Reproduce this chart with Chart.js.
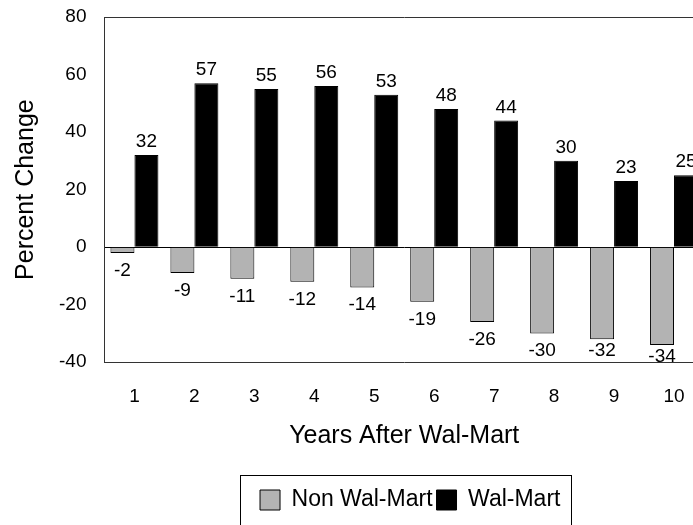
<!DOCTYPE html>
<html>
<head>
<meta charset="utf-8">
<script src="https://cdn.jsdelivr.net/npm/chart.js@4.4.1/dist/chart.umd.min.js"></script>
<style>
  html, body { margin: 0; padding: 0; background: #fff; overflow: hidden; }
  #wrap { position: relative; width: 720px; height: 525px; }
</style>
</head>
<body>
<div id="wrap"><canvas id="walmartChart" width="720" height="525"></canvas></div>
<script>
// data
const years = ['1', '2', '3', '4', '5', '6', '7', '8', '9', '10'];
const nonWalMart = [-2, -9, -11, -12, -14, -19, -26, -30, -32, -34];
const walMart = [32, 57, 55, 56, 53, 48, 44, 30, 23, 25];
const yMin = -40;
const yMax = 80;
const yStep = 20;

const FONT = "'Liberation Sans', Arial, sans-serif";

// put the legend under the plot area instead of the whole canvas
const legendSpan = {
    id: 'legendSpan',
    afterLayout(chart) {
        chart.legend.left = chart.chartArea.left + 12;
        chart.legend.right = chart.chartArea.right;
    }
};

// frame round the legend, like the Excel one
const legendFrame = {
    id: 'legendFrame',
    afterDraw(chart) {
        const hb = chart.legend.legendHitBoxes;
        if (!hb || !hb.length) return;
        const first = hb[0], last = hb[hb.length - 1];
        const x0 = Math.round(first.left - 20) + 0.5;
        const x1 = Math.round(last.left + last.width + 11) + 0.5;
        const y0 = Math.round(first.top - 14) + 0.5;
        const ctx = chart.ctx;
        ctx.save();
        ctx.strokeStyle = '#000';
        ctx.lineWidth = 1;
        ctx.strokeRect(x0, y0, x1 - x0, 200);
        ctx.restore();
    }
};

// value labels at the end of each bar
const barValues = {
    id: 'barValues',
    afterDatasetsDraw(chart) {
        const ctx = chart.ctx;
        const area = chart.chartArea;
        ctx.save();
        ctx.font = '19px ' + FONT;
        ctx.fillStyle = '#000';
        ctx.textAlign = 'center';
        ctx.textBaseline = 'alphabetic';
        chart.data.datasets.forEach((ds, i) => {
            chart.getDatasetMeta(i).data.forEach((bar, j) => {
                const v = ds.data[j];
                let y;
                if (v >= 0) {
                    y = bar.y - 8;
                } else {
                    let top = Math.min(bar.y + 9, area.bottom - 20);
                    top = Math.max(top, bar.y + 3);
                    y = top + 14;
                }
                ctx.fillText(String(v), bar.x, y);
            });
        });
        ctx.restore();
    }
};

const ctx = document.getElementById('walmartChart').getContext('2d');
new Chart(ctx, {
    type: 'bar',
    data: {
        labels: years,
        datasets: [{
            label: 'Non Wal-Mart',
            data: nonWalMart,
            backgroundColor: '#b3b3b3',
            borderColor: '#000',
            borderWidth: 1,
            categoryPercentage: 0.8,
            barPercentage: 1.0
        }, {
            label: 'Wal-Mart',
            data: walMart,
            backgroundColor: '#000',
            borderColor: '#000',
            borderWidth: 1,
            categoryPercentage: 0.8,
            barPercentage: 1.0
        }]
    },
    options: {
        responsive: false,
        animation: false,
        devicePixelRatio: 1,
        layout: {
            padding: { top: 17, right: 16, bottom: 3.5, left: 0 }
        },
        plugins: {
            tooltip: { enabled: false },
            legend: {
                position: 'bottom',
                align: 'center',
                labels: {
                    boxWidth: 20,
                    boxHeight: 20,
                    padding: 4,
                    color: '#000',
                    font: { family: FONT, size: 23 }
                }
            }
        },
        scales: {
            x: {
                grid: { display: false, drawTicks: false },
                border: { display: true, color: '#333', width: 1 },
                ticks: {
                    color: '#000',
                    padding: 23,
                    maxRotation: 0,
                    font: { family: FONT, size: 19 }
                },
                title: {
                    display: true,
                    text: 'Years After Wal-Mart',
                    color: '#000',
                    font: { family: FONT, size: 25 },
                    padding: { top: -9.5, bottom: 33 }
                }
            },
            y: {
                min: yMin,
                max: yMax,
                afterFit(scale) {
                    // the top label may stick out above the frame, as in Excel
                    scale.paddingTop = 0;
                    scale.paddingBottom = 0;
                },
                grid: {
                    drawTicks: false,
                    color: c => c.tick.value === 0 ? '#000' : (c.tick.value === yMax ? '#333' : 'rgba(0,0,0,0)'),
                    lineWidth: 1
                },
                border: { display: true, color: '#333', width: 1 },
                ticks: {
                    stepSize: yStep,
                    color: '#000',
                    padding: 18,
                    font: { family: FONT, size: 19 }
                },
                title: {
                    display: true,
                    text: 'Percent Change',
                    color: '#000',
                    font: { family: FONT, size: 25 },
                    padding: { top: 11, bottom: 0 }
                }
            }
        }
    },
    plugins: [legendSpan, legendFrame, barValues]
});
</script>
</body>
</html>
